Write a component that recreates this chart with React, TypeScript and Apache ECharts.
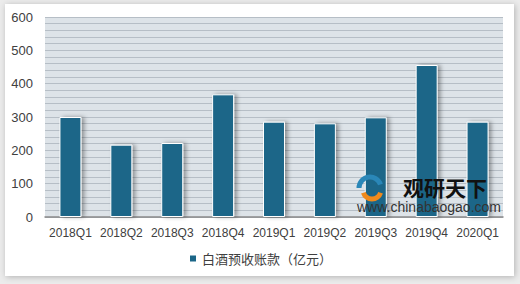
import React, { useEffect, useRef } from "react";
import * as echarts from "echarts";

const categories = ["2018Q1", "2018Q2", "2018Q3", "2018Q4", "2019Q1", "2019Q2", "2019Q3", "2019Q4", "2020Q1"];
const values = [300, 217, 222, 368, 286, 281, 299, 456, 286];
const seriesName = "白酒预收账款（亿元）";

export default function App() {
  const ref = useRef<HTMLDivElement>(null);
  useEffect(() => {
    const chart = echarts.init(ref.current!, null, { renderer: "svg" });
    chart.setOption({
      animation: false,
      backgroundColor: "#ececec",
      textStyle: { fontFamily: "Liberation Sans, Noto Sans CJK SC, sans-serif" },
      graphic: [
        {
          type: "rect",
          z: -10,
          silent: true,
          shape: { x: 5, y: 4, width: 509, height: 272 },
          style: { fill: "#ffffff", shadowBlur: 6, shadowColor: "rgba(0,0,0,0.25)", shadowOffsetX: 1, shadowOffsetY: 1 },
        },
        {
          type: "arc",
          z: 20,
          shape: { cx: 370, cy: 188, r: 11, startAngle: Math.PI * 1.0, endAngle: Math.PI * 1.9 },
          style: { stroke: "#2a87b8", lineWidth: 5, fill: "none" },
        },
        {
          type: "arc",
          z: 20,
          shape: { cx: 372, cy: 190, r: 9, startAngle: Math.PI * 0.1, endAngle: Math.PI * 0.9 },
          style: { stroke: "#f08a1c", lineWidth: 5, fill: "none" },
        },
        {
          type: "text",
          z: 20,
          x: 403,
          y: 176,
          style: { text: "观研天下", fill: "#111111", font: "bold 21px 'Noto Sans CJK SC'" },
        },
        {
          type: "text",
          z: 20,
          x: 357,
          y: 200,
          style: { text: "www.chinabaogao.com", fill: "#333333", font: "14px 'Liberation Sans'" },
        },
      ],
      grid: {
        left: 45,
        right: 17,
        top: 17,
        bottom: 67,
        show: true,
        backgroundColor: "#dde3e8",
        borderWidth: 0,
      },
      legend: {
        bottom: 14,
        left: "center",
        icon: "rect",
        itemWidth: 8,
        itemHeight: 8,
        itemGap: 6,
        textStyle: { fontSize: 13, color: "#404040", fontFamily: "Noto Sans CJK SC" },
        data: [seriesName],
      },
      xAxis: {
        type: "category",
        data: categories,
        axisLine: { lineStyle: { color: "#8a8a8a", width: 1.5 } },
        axisTick: { show: false },
        axisLabel: { color: "#404040", fontSize: 12, margin: 10, interval: 0 },
      },
      yAxis: {
        type: "value",
        min: 0,
        max: 600,
        interval: 20,
        axisLine: { show: false },
        axisTick: { show: false },
        axisLabel: {
          color: "#404040",
          fontSize: 13,
          margin: 12,
          formatter: (v: number) => (v % 100 === 0 ? String(v) : ""),
        },
        splitLine: { lineStyle: { color: "#b6bec6", width: 1 } },
      },
      series: [
        {
          name: seriesName,
          type: "bar",
          data: values,
          barWidth: 22,
          itemStyle: {
            color: "#1b6688",
            borderColor: "#ffffff",
            borderWidth: 1,
            shadowColor: "rgba(0,0,0,0.35)",
            shadowBlur: 4,
            shadowOffsetX: 3,
            shadowOffsetY: 0,
          },
        },
      ],
    });
    return () => chart.dispose();
  }, []);
  return <div ref={ref} style={{ position: "fixed", left: 0, top: 0, width: 520, height: 284 }} />;
}
